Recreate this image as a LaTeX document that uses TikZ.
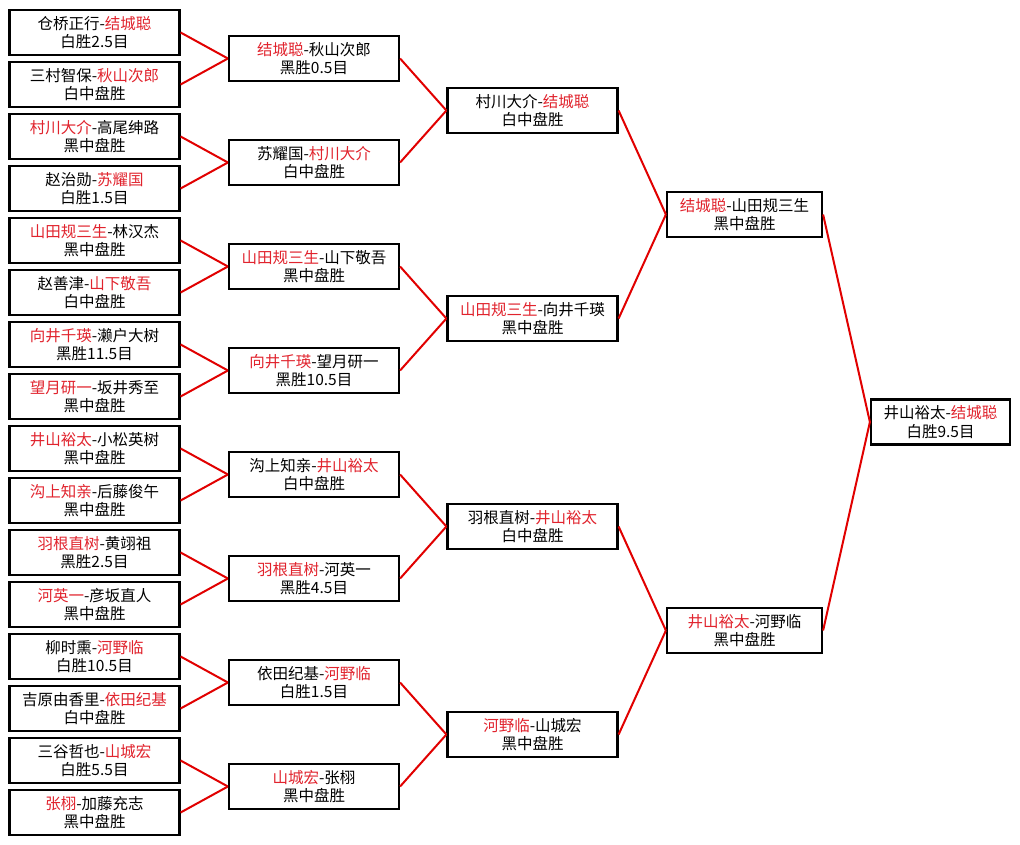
\documentclass[tikz,border=0pt]{standalone}
\usepackage{fontspec}
\setmainfont{Noto Sans CJK SC}
\usepackage{xcolor}
\usepackage{tikz}
\definecolor{winred}{RGB}{225,35,45}
\definecolor{linkred}{RGB}{225,0,0}
\newcommand{\win}[1]{\textcolor{winred}{#1}}

\begin{document}
\begin{tikzpicture}[
    x=1pt, y=-1pt,
    game/.style={rectangle, draw=black, line width=2.2pt, fill=white, minimum width=170pt, minimum height=45pt, inner sep=0pt, align=center, font=\fontsize{15.5}{18.5}\selectfont},
    link/.style={draw=linkred, line width=2pt}]
  \useasboundingbox[fill=white] (0,0) rectangle (1020,845);
  % first round
  \node[game] (ra1)  at (94.5,32.5)  {仓桥正行-\win{结城聪}\\白胜2.5目};
  \node[game] (ra2)  at (94.5,84.5)  {三村智保-\win{秋山次郎}\\白中盘胜};
  \node[game] (ra3)  at (94.5,136.5) {\win{村川大介}-高尾绅路\\黑中盘胜};
  \node[game] (ra4)  at (94.5,188.5) {赵治勋-\win{苏耀国}\\白胜1.5目};
  \node[game] (ra5)  at (94.5,240.5) {\win{山田规三生}-林汉杰\\黑中盘胜};
  \node[game] (ra6)  at (94.5,292.5) {赵善津-\win{山下敬吾}\\白中盘胜};
  \node[game] (ra7)  at (94.5,344.5) {\win{向井千瑛}-濑户大树\\黑胜11.5目};
  \node[game] (ra8)  at (94.5,396.5) {\win{望月研一}-坂井秀至\\黑中盘胜};
  \node[game] (ra9)  at (94.5,448.5) {\win{井山裕太}-小松英树\\黑中盘胜};
  \node[game] (ra10) at (94.5,500.5) {\win{沟上知亲}-后藤俊午\\黑中盘胜};
  \node[game] (ra11) at (94.5,552.5) {\win{羽根直树}-黄翊祖\\黑胜2.5目};
  \node[game] (ra12) at (94.5,604.5) {\win{河英一}-彦坂直人\\黑中盘胜};
  \node[game] (ra13) at (94.5,656.5) {柳时熏-\win{河野临}\\白胜10.5目};
  \node[game] (ra14) at (94.5,708.5) {吉原由香里-\win{依田纪基}\\白中盘胜};
  \node[game] (ra15) at (94.5,760.5) {三谷哲也-\win{山城宏}\\白胜5.5目};
  \node[game] (ra16) at (94.5,812.5) {\win{张栩}-加藤充志\\黑中盘胜};
  % second round
  \node[game] (rb1) at (314,58.5)  {\win{结城聪}-秋山次郎\\黑胜0.5目};
  \node[game] (rb2) at (314,162.5) {苏耀国-\win{村川大介}\\白中盘胜};
  \node[game] (rb3) at (314,266.5) {\win{山田规三生}-山下敬吾\\黑中盘胜};
  \node[game] (rb4) at (314,370.5) {\win{向井千瑛}-望月研一\\黑胜10.5目};
  \node[game] (rb5) at (314,474.5) {沟上知亲-\win{井山裕太}\\白中盘胜};
  \node[game] (rb6) at (314,578.5) {\win{羽根直树}-河英一\\黑胜4.5目};
  \node[game] (rb7) at (314,682.5) {依田纪基-\win{河野临}\\白胜1.5目};
  \node[game] (rb8) at (314,786.5) {\win{山城宏}-张栩\\黑中盘胜};
  % quarter finals
  \node[game] (rc1) at (532.5,110.5) {村川大介-\win{结城聪}\\白中盘胜};
  \node[game] (rc2) at (532.5,318.5) {\win{山田规三生}-向井千瑛\\黑中盘胜};
  \node[game] (rc3) at (532.5,526.5) {羽根直树-\win{井山裕太}\\白中盘胜};
  \node[game] (rc4) at (532.5,734.5) {\win{河野临}-山城宏\\黑中盘胜};
  % semi finals
  \node[game, minimum width=155pt] (rd1) at (744.5,214.5) {\win{结城聪}-山田规三生\\黑中盘胜};
  \node[game, minimum width=155pt] (rd2) at (744.5,630.5) {\win{井山裕太}-河野临\\黑中盘胜};
  % final
  \node[game, minimum width=139pt] (re) at (940.5,422) {井山裕太-\win{结城聪}\\白胜9.5目};

  \draw[link] (ra1.east) -- (rb1.west);   \draw[link] (ra2.east) -- (rb1.west);
  \draw[link] (ra3.east) -- (rb2.west);   \draw[link] (ra4.east) -- (rb2.west);
  \draw[link] (ra5.east) -- (rb3.west);   \draw[link] (ra6.east) -- (rb3.west);
  \draw[link] (ra7.east) -- (rb4.west);   \draw[link] (ra8.east) -- (rb4.west);
  \draw[link] (ra9.east) -- (rb5.west);   \draw[link] (ra10.east) -- (rb5.west);
  \draw[link] (ra11.east) -- (rb6.west);  \draw[link] (ra12.east) -- (rb6.west);
  \draw[link] (ra13.east) -- (rb7.west);  \draw[link] (ra14.east) -- (rb7.west);
  \draw[link] (ra15.east) -- (rb8.west);  \draw[link] (ra16.east) -- (rb8.west);
  \draw[link] (rb1.east) -- (rc1.west);   \draw[link] (rb2.east) -- (rc1.west);
  \draw[link] (rb3.east) -- (rc2.west);   \draw[link] (rb4.east) -- (rc2.west);
  \draw[link] (rb5.east) -- (rc3.west);   \draw[link] (rb6.east) -- (rc3.west);
  \draw[link] (rb7.east) -- (rc4.west);   \draw[link] (rb8.east) -- (rc4.west);
  \draw[link] (rc1.east) -- (rd1.west);   \draw[link] (rc2.east) -- (rd1.west);
  \draw[link] (rc3.east) -- (rd2.west);   \draw[link] (rc4.east) -- (rd2.west);
  \draw[link] (rd1.east) -- (re.west);    \draw[link] (rd2.east) -- (re.west);
\end{tikzpicture}
\end{document}
